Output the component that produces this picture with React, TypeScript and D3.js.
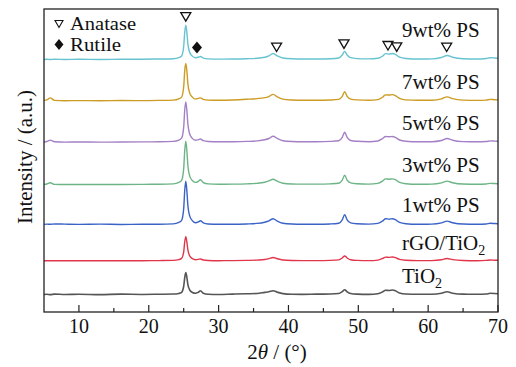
import * as d3 from "d3";

// 2θ sampling grid (degrees) shared by every pattern
const twoTheta = [5, 5.4, 5.9, 6.5, 8, 10, 13, 16, 19, 21.5, 23.5, 24.3, 24.7, 25.0, 25.15, 25.3, 25.45, 25.6, 25.85, 26.2, 26.7, 27.1, 27.4, 27.8, 28.5, 30, 32, 34, 35.5, 36.6, 37.2, 37.8, 38.4, 39.2, 40.5, 42, 44, 46, 47.2, 47.7, 48.05, 48.4, 48.9, 49.8, 51.5, 52.8, 53.5, 53.9, 54.4, 54.9, 55.3, 55.9, 56.8, 58.5, 60.5, 61.9, 62.7, 63.5, 65, 67, 68.3, 68.9, 69.5, 70];

// intensity above each pattern's own baseline (a.u.)
const tio2 = [0.3, 0.6, 0.2, 0.7, 0.3, 0.6, 0.2, 0.7, 0.4, 0.6, 0.8, 1.4, 2.5, 8.5, 17, 22, 17.5, 10, 5, 2.6, 1.5, 2.6, 4, 1.6, 0.6, 0.4, 0.7, 1, 1.3, 2.4, 3, 4, 2.6, 1.2, 0.6, 0.5, 0.7, 0.8, 1.3, 3.2, 5, 3, 1.3, 0.7, 0.5, 1.1, 3, 4.5, 4.3, 4.8, 4, 1.8, 0.8, 0.6, 0.6, 1.5, 3, 1.6, 0.7, 0.6, 0.8, 1.5, 1.3, 1];
const rgoTio2 = [0.2, 0.3, 0.2, 0.3, 0.2, 0.3, 0.2, 0.3, 0.3, 0.4, 0.6, 1.4, 2.6, 9, 19, 24, 19, 11, 5.2, 2.6, 1.3, 1.6, 2, 1, 0.5, 0.3, 0.4, 0.6, 0.9, 1.5, 2.3, 3.5, 2.2, 1, 0.5, 0.4, 0.4, 0.6, 1.1, 3, 5, 3, 1.2, 0.6, 0.4, 0.9, 2.5, 3.8, 3.6, 4, 3.3, 1.6, 0.7, 0.4, 0.4, 1.2, 2.5, 1.4, 0.5, 0.3, 0.6, 1, 0.8, 0.7];
const ps1 = [0.3, 0.6, 0.5, 0.8, 0.6, 0.4, 0.6, 0.3, 0.5, 0.5, 0.9, 2.3, 4.4, 16, 34, 43, 34, 19, 9, 4.4, 2, 2.8, 4, 1.8, 0.8, 0.5, 0.5, 0.8, 1.3, 2.5, 3.8, 6, 3.6, 1.5, 0.7, 0.5, 0.5, 0.8, 1.5, 4.8, 10, 4.8, 1.8, 1, 0.6, 1.3, 3.8, 6, 5.5, 6, 5, 2.3, 1, 0.5, 0.6, 1.8, 3.6, 2, 0.7, 0.5, 0.8, 1.4, 1.2, 1];
const ps3 = [0.3, 0.7, 2, 0.4, 0.2, 0.3, 0.2, 0.3, 0.4, 0.5, 0.9, 2.3, 4.4, 16, 34, 43, 34, 19, 9, 4.4, 2.3, 3.4, 5, 2.2, 0.9, 0.5, 0.6, 0.9, 1.4, 2.5, 3.8, 5.5, 3.5, 1.5, 0.8, 0.6, 0.6, 0.9, 1.5, 4.5, 9.5, 4.5, 1.8, 1, 0.6, 1.3, 3.8, 5.8, 5.5, 5.8, 5, 2.3, 1, 0.5, 0.6, 1.8, 3.6, 2, 0.7, 0.5, 0.8, 1.4, 1.2, 1];
const ps5 = [0.3, 0.8, 2.2, 0.5, 0.2, 0.3, 0.2, 0.3, 0.4, 0.5, 0.9, 2.2, 4.1, 15, 32, 40, 32, 18, 8.5, 4.2, 2, 2.6, 3.3, 1.6, 0.8, 0.5, 0.6, 0.9, 1.4, 2.5, 3.8, 6, 3.8, 1.6, 0.8, 0.6, 0.6, 0.9, 1.5, 4.8, 10, 4.8, 1.8, 1, 0.6, 1.3, 3.8, 5.8, 5.5, 5.8, 5, 2.3, 1, 0.5, 0.6, 1.8, 3.8, 2, 0.7, 0.5, 0.8, 1.4, 1.2, 1];
const ps7 = [0.5, 1, 3, 0.5, 0.2, 0.3, 0.2, 0.4, 0.3, 0.5, 0.8, 2, 3.8, 14, 30, 37, 30, 17, 8, 4, 1.8, 2.5, 3, 1.5, 0.8, 0.6, 0.9, 1.6, 2.3, 3.2, 4.3, 6.5, 4, 1.8, 0.9, 0.6, 0.6, 0.9, 1.5, 4.5, 9, 4.5, 1.8, 1, 0.7, 1.3, 3.8, 6, 5.8, 6.2, 5.2, 2.4, 1, 0.6, 0.7, 2, 4, 2.2, 0.8, 0.5, 0.8, 1.5, 1.2, 1];
const ps9 = [0, 0.3, 0, 0.3, 0, 0.3, 0, 0.2, 0.3, 0.5, 0.8, 1.8, 3.5, 13, 27, 34, 27, 15.5, 7.2, 3.6, 1.8, 2.2, 3, 1.4, 0.6, 0.4, 0.5, 0.8, 1.2, 2.2, 3.5, 6, 3.5, 1.5, 0.7, 0.5, 0.5, 0.8, 1.5, 4.5, 8, 4.5, 1.8, 0.9, 0.6, 1.2, 3.5, 5.8, 5.3, 6, 5, 2.3, 1, 0.5, 0.6, 2, 4, 2.2, 0.7, 0.5, 1, 1.8, 1.5, 1.2];

const patterns = [tio2, rgoTio2, ps1, ps3, ps5, ps7, ps9];
const stackOffsets = [17, 50.5, 86.4, 126, 168, 209, 250];
const colors = ["#555555", "#e0364b", "#3b63c6", "#6db486", "#a480c6", "#cc9c24", "#67c3cf"];

const xTicks = [10, 20, 30, 40, 50, 60, 70];
const xMinorTicks = [15, 25, 35, 45, 55, 65];

// reflection markers drawn over the top pattern
const anataseMarks = [25.3, 38.3, 47.95, 54.25, 55.5, 62.65];
const rutileMarks = [26.9];

const W = 516;
const H = 367;
const m = { left: 44, right: 18, top: 9, bottom: 55 };
const labelDy = [12, 11, 13, 13, 12, 11.5, 23];
const font = "Liberation Serif, Times New Roman, serif";

export default function App() {
  const x = d3.scaleLinear().domain([5, 70]).range([m.left, W - m.right]);
  const y = d3.scaleLinear().domain([0, 300]).range([H - m.bottom, m.top]);

  const line = (vals: number[], off: number) =>
    d3
      .line<number>()
      .x((_, i) => x(twoTheta[i]))
      .y((v) => y(v + off))
      .curve(d3.curveMonotoneX)(vals) as string;

  const top = patterns.length - 1;
  const valueAt = d3.scaleLinear().domain(twoTheta).range(ps9);
  const markY = (t: number) => y(stackOffsets[top] + valueAt(t));

  const sub = (s: string) => (
    <tspan dy={5} style={{ fontSize: 14 }}>{s}</tspan>
  );
  const labels = [
    <>TiO{sub("2")}</>,
    <>rGO/TiO{sub("2")}</>,
    <>1wt% PS</>,
    <>3wt% PS</>,
    <>5wt% PS</>,
    <>7wt% PS</>,
    <>9wt% PS</>,
  ];

  const y0 = H - m.bottom;
  const txt = { fontFamily: font, fill: "#111" };

  return (
    <svg width={W} height={H} style={{ position: "absolute", left: 0, top: 0, background: "#fff" }}>
      <rect width={W} height={H} fill="#fff" />
      {patterns.map((p, i) => (
        <path key={i} d={line(p, stackOffsets[i])} fill="none" stroke={colors[i]} strokeWidth={i === 0 ? 1.6 : 1.4} />
      ))}

      {patterns.map((_, i) => (
        <text key={i} x={402} y={y(stackOffsets[i]) - labelDy[i]} style={{ ...txt, fontSize: 21 }}>
          {labels[i]}
        </text>
      ))}

      {anataseMarks.map((t, i) => (
        <path key={i} transform={`translate(${x(t)},${markY(t) - 8})`} d="M-5,-4.5L5,-4.5L0,4Z" fill="#fff" stroke="#111" strokeWidth={1.3} />
      ))}
      {rutileMarks.map((t, i) => (
        <path key={i} transform={`translate(${x(t)},${markY(t) - 10})`} d="M0,-6L5,0L0,6L-5,0Z" fill="#111" />
      ))}

      {/* legend */}
      <path transform="translate(59,24)" d="M-4,-3.5L4,-3.5L0,3.5Z" fill="#fff" stroke="#111" strokeWidth={1.1} />
      <text x={70} y={29.5} textLength={66} lengthAdjust="spacingAndGlyphs" style={{ ...txt, fontSize: 18 }}>Anatase</text>
      <path transform="translate(59,44.5)" d="M0,-5.5L4.5,0L0,5.5L-4.5,0Z" fill="#111" />
      <text x={70} y={50.5} textLength={51} lengthAdjust="spacingAndGlyphs" style={{ ...txt, fontSize: 18 }}>Rutile</text>

      {/* frame */}
      <rect x={m.left} y={m.top} width={W - m.right - m.left} height={y0 - m.top} fill="none" stroke="#222" strokeWidth={1.3} />

      {xTicks.map((t) => (
        <g key={t}>
          <line x1={x(t)} x2={x(t)} y1={y0} y2={y0 - 7} stroke="#222" strokeWidth={1.2} />
          <text x={x(t)} y={333} textAnchor="middle" style={{ ...txt, fontSize: 20 }}>{t}</text>
        </g>
      ))}
      {xMinorTicks.map((t) => (
        <line key={t} x1={x(t)} x2={x(t)} y1={y0} y2={y0 - 4} stroke="#222" strokeWidth={1.2} />
      ))}

      <text x={277} y={359} textAnchor="middle" style={{ ...txt, fontSize: 21 }}>
        2<tspan fontStyle="italic">θ</tspan> / (°)
      </text>
      <text transform="translate(32,157) rotate(-90)" textAnchor="middle" style={{ ...txt, fontSize: 21 }}>
        Intensity / (a.u.)
      </text>
    </svg>
  );
}
